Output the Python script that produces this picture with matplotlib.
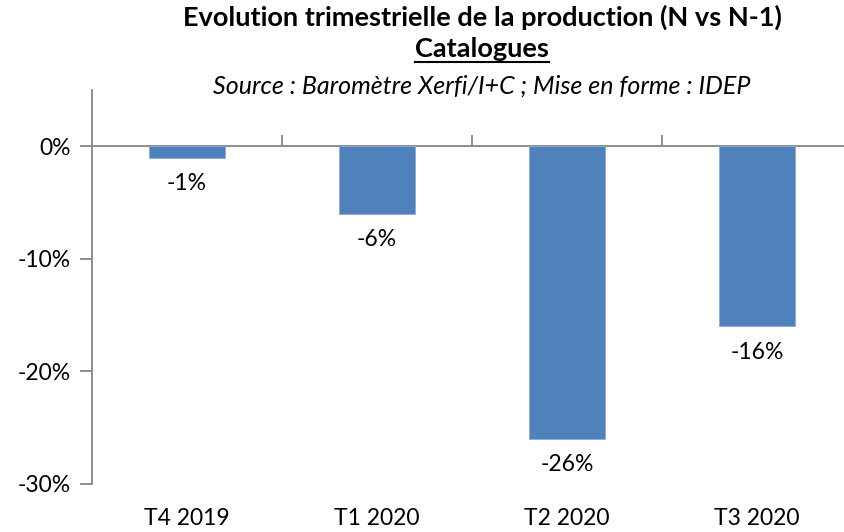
import matplotlib
matplotlib.use('Agg')
import matplotlib.pyplot as plt
from matplotlib.lines import Line2D

plt.rcParams['font.family'] = ['Lato', 'DejaVu Sans']

# data
quarters = ['T4 2019', 'T1 2020', 'T2 2020', 'T3 2020']
evolution = [-1, -6, -26, -16]   # % vs N-1
yticks = [-30, -20, -10, 0]

bar_color = '#4F81BD'
axis_gray = '#868686'

fig = plt.figure(figsize=(8.44, 5.32), dpi=100)
ax = fig.add_axes([92 / 844, 48 / 532, 760 / 844, 394 / 532])

x = list(range(len(quarters)))
bars = ax.bar(x, evolution, width=0.4, color=bar_color, edgecolor='#8EAAD3', linewidth=0.6)
ax.bar_label(bars, labels=[f'{v}%' for v in evolution], padding=11, fontsize=16.5)

ax.set_xlim(-0.5, len(quarters) - 0.5)
ax.set_ylim(-30, 5)

# y axis
ax.set_yticks(yticks)
ax.set_yticklabels([f'{t}%' for t in yticks])
ax.tick_params(axis='y', direction='out', length=9, width=1.3, color=axis_gray,
               labelsize=16.5, pad=6)
ax.spines['left'].set_color(axis_gray)
ax.spines['left'].set_linewidth(1.3)
for s in ['top', 'right', 'bottom']:
    ax.spines[s].set_visible(False)

# category labels at bottom
ax.set_xticks(x)
ax.set_xticklabels(quarters)
ax.tick_params(axis='x', length=0, labelsize=16.5, pad=17)

# zero line with ticks between categories
zero_ax = ax.secondary_xaxis(30 / 35)
for s in zero_ax.spines.values():
    s.set_color(axis_gray)
    s.set_linewidth(1.3)
zero_ax.set_xticks([i + 0.5 for i in x])
zero_ax.set_xticklabels([])
zero_ax.tick_params(axis='x', direction='out', length=8, width=1.3, color=axis_gray)

# titles
cx = 482 / 844
fig.text(cx, 1 - 26 / 532, 'Evolution trimestrielle de la production (N vs N-1)',
         ha='center', va='baseline', fontsize=19.5, fontweight='bold')
sub = fig.text(cx, 1 - 57 / 532, 'Catalogues', ha='center', va='baseline',
               fontsize=19.5, fontweight='bold')
fig.text(cx, 1 - 94 / 532, 'Source : Baromètre Xerfi/I+C ; Mise en forme : IDEP',
         ha='center', va='baseline', fontsize=18, style='italic')

# underline "Catalogues"
fig.canvas.draw()
bb = sub.get_window_extent().transformed(fig.transFigure.inverted())
uy = 1 - 62 / 532
fig.add_artist(Line2D([bb.x0, bb.x1], [uy, uy], color='black', linewidth=1.5,
                      transform=fig.transFigure))

fig.savefig('out.png', dpi=100)
